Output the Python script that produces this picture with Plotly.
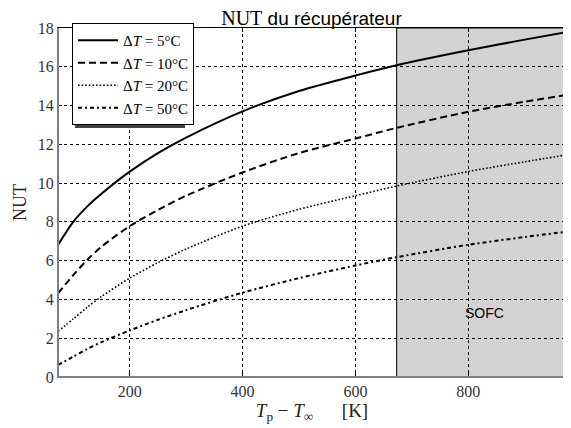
import plotly.graph_objects as go

# Data
x_vals = [73, 100, 125, 150, 200, 250, 300, 400, 500, 600, 673, 800, 900, 973]
nut_dT5 = [6.81, 8.0, 8.8, 9.45, 10.59, 11.55, 12.35, 13.7, 14.75, 15.55, 16.08, 16.85, 17.4, 17.78]
nut_dT10 = [4.32, 5.25, 6.05, 6.72, 7.78, 8.61, 9.35, 10.55, 11.55, 12.3, 12.85, 13.68, 14.2, 14.54]
nut_dT20 = [2.35, 3.0, 3.6, 4.15, 5.1, 5.9, 6.6, 7.78, 8.65, 9.35, 9.85, 10.6, 11.1, 11.45]
nut_dT50 = [0.62, 1.05, 1.45, 1.8, 2.4, 2.95, 3.45, 4.35, 5.1, 5.75, 6.18, 6.82, 7.22, 7.49]
series_names = ["Δ<i>T</i> = 5°C", "Δ<i>T</i> = 10°C", "Δ<i>T</i> = 20°C", "Δ<i>T</i> = 50°C"]
series_dash = ["solid", "7px,4px", "1.6px,2px", "4px,3px,2px,3px"]
series_width = [2, 2, 1.6, 2]
sofc_range = [673, 973]
sofc_label = "SOFC"
x_range = [73, 973]
y_range = [0, 18]
x_ticks = [200, 400, 600, 800]
y_ticks = [0, 2, 4, 6, 8, 10, 12, 14, 16, 18]

serif = "Liberation Serif"
sans = "Liberation Sans"
PW, PH = 508, 349

fig = go.Figure()
for ys, name, dash, w in zip([nut_dT5, nut_dT10, nut_dT20, nut_dT50], series_names, series_dash, series_width):
    fig.add_trace(go.Scatter(x=x_vals, y=ys, mode="lines", name=name,
                             line=dict(color="black", dash=dash, width=w, shape="spline", smoothing=0.8)))

fig.add_shape(type="rect", xref="x", yref="y", x0=sofc_range[0], x1=sofc_range[1],
              y0=y_range[0], y1=y_range[1], fillcolor="#d3d3d3",
              line=dict(color="black", width=1), layer="below")
fig.add_annotation(x=828, y=3.3, xref="x", yref="y", text=sofc_label, showarrow=False,
                   font=dict(family=sans, size=14, color="black"))

# legend shadow
fig.add_shape(type="rect", xref="paper", yref="paper",
              x0=(67 - 50) / PW, x1=(177 - 50) / PW,
              y0=1 - (120 - 20) / PH, y1=1 + (20 - 18) / PH,
              fillcolor="#444444", line=dict(width=0), layer="above")

# left and bottom edges drawn gray and thicker (thin filled rects)
fig.add_shape(type="rect", xref="paper", yref="paper", x0=-1 / PW, x1=1 / PW, y0=-1 / PH, y1=1,
              fillcolor="#808080", line=dict(width=0), layer="above")
fig.add_shape(type="rect", xref="paper", yref="paper", x0=-1 / PW, x1=1, y0=-1 / PH, y1=1 / PH,
              fillcolor="#808080", line=dict(width=0), layer="above")

axis_common = dict(showgrid=True, gridcolor="black", griddash="dot", gridwidth=1,
                   ticks="inside", ticklen=4, tickcolor="black",
                   showline=True, linecolor="black", linewidth=1, mirror="ticks",
                   zeroline=False, tickfont=dict(family=serif, size=16, color="#333"))

fig.update_layout(
    width=571, height=428,
    margin=dict(l=50, r=13, t=20, b=59),
    paper_bgcolor="white", plot_bgcolor="white",
    title=dict(text=f"<span style='font-family:{serif};font-size:20px'>NUT</span> du récupérateur",
               x=303.5 / 571, xanchor="center", y=1 - 10 / 428, yanchor="middle",
               font=dict(family=sans, size=19, color="black")),
    xaxis=dict(range=x_range, tickvals=x_ticks, **axis_common,
               title=dict(text="<i>T</i><sub>p</sub> − <i>T</i><sub>∞</sub>\u2003\u2002[K]",
                          font=dict(family=serif, size=19, color="#222"), standoff=0)),
    yaxis=dict(range=y_range, tickvals=y_ticks, **axis_common,
               title=dict(text="NUT", font=dict(family=serif, size=18, color="#222"), standoff=6)),
    legend=dict(x=(64 - 50) / PW, y=1 + (20 - 15) / PH, xanchor="left", yanchor="top",
                bgcolor="white", bordercolor="black", borderwidth=1,
                font=dict(family=serif, size=15, color="black"),
                tracegroupgap=0, itemwidth=40),
    showlegend=True,
)

fig.write_html("out.html")
